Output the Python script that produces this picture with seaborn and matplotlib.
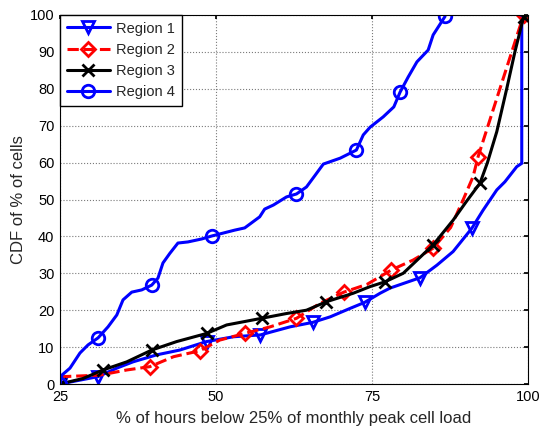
import numpy as np
import pandas as pd
import matplotlib
matplotlib.use("Agg")
import matplotlib.pyplot as plt
import seaborn as sns

# CDF curves, x = % of hours below 25% of peak load
region1_x = [25, 31.1, 34.1, 36.7, 40.5, 44.2, 48.5, 52.8, 57.1, 61.9, 65.5, 68.3, 71.5,
             73.8, 76.3, 77.9, 82.7, 85.4, 88.0, 91.0, 92.8, 95.0, 96.3, 98.2, 99.0, 99.0]
region1_y = [0, 2.0, 4.3, 6.0, 7.9, 9.2, 11.5, 12.8, 13.3, 15.5, 16.7, 18.2, 20.5,
             22.1, 24.6, 26.0, 28.8, 32.2, 35.9, 42.2, 47.1, 52.6, 54.8, 58.9, 59.8, 100]
region1_marks = [0, 1, 6, 8, 10, 13, 16, 19, 25]

region2_x = [25, 25.5, 31.4, 35.7, 39.4, 43.2, 47.4, 50.6, 54.6, 58.7, 62.9, 66.7, 70.5,
             74.2, 78.1, 81.6, 84.8, 87.6, 89.6, 91.2, 92.0, 95.0, 99.3]
region2_y = [2.0, 2.0, 2.4, 3.8, 4.7, 7.4, 9.0, 11.9, 13.7, 15.5, 17.8, 21.9, 24.9,
             27.0, 30.9, 33.6, 36.8, 42.4, 49.9, 56.2, 61.6, 77.4, 100]
region2_marks = [4, 6, 8, 10, 12, 14, 16, 20, 22]

region3_x = [25, 28.7, 31.9, 35.7, 39.7, 43.7, 48.5, 51.7, 57.3, 61.3, 64.5, 67.7, 72.0,
             74.7, 77.1, 80.0, 84.8, 88.0, 90.1, 92.3, 93.5, 95.0, 96.6, 97.9, 99.3]
region3_y = [0, 1.5, 3.8, 6.0, 9.2, 11.5, 13.7, 16.0, 17.8, 19.1, 20.0, 22.3, 24.6,
             26.4, 27.7, 30.0, 37.7, 44.4, 49.4, 54.4, 60.0, 68.4, 80.1, 90.0, 99.5]
region3_marks = [0, 2, 4, 6, 8, 11, 14, 16, 19, 24]

region4_x = [25, 25.3, 26.6, 28.2, 29.5, 31.1, 32.7, 34.1, 35.1, 36.5, 38.1, 39.7, 40.7,
             41.5, 42.6, 43.9, 45.5, 47.7, 49.3, 53.0, 54.6, 57.0, 57.8, 59.2, 61.3, 62.9,
             64.5, 65.9, 67.2, 69.9, 72.5, 73.6, 74.7, 76.8, 78.5, 79.5, 80.8, 82.2, 84.0,
             84.8, 86.7]
region4_y = [0, 2.4, 4.3, 8.4, 10.6, 12.5, 15.5, 18.7, 22.8, 24.9, 25.5, 26.8, 28.7,
             32.8, 35.4, 38.2, 38.5, 39.3, 40.1, 41.7, 42.3, 45.3, 47.4, 48.5, 50.7, 51.5,
             53.4, 56.6, 59.6, 61.2, 63.4, 67.5, 69.6, 72.4, 75.1, 79.1, 83.2, 87.3, 90.5,
             94.6, 99.6]
region4_marks = [0, 5, 11, 18, 25, 30, 35, 40]

x_ticks = [25, 50, 75, 100]
y_ticks = list(range(0, 101, 10))

sns.set_theme(style="whitegrid")
plt.rcParams.update({
    "font.family": ["Liberation Sans", "DejaVu Sans"],
    "font.size": 10,
    "axes.edgecolor": "black",
    "axes.linewidth": 0.8,
    "xtick.direction": "in",
    "ytick.direction": "in",
    "xtick.top": True,
    "ytick.right": True,
    "xtick.major.size": 3,
    "ytick.major.size": 3,
    "xtick.color": "black",
    "ytick.color": "black",
})

fig = plt.figure(figsize=(5.39, 4.30), dpi=100)
ax = fig.add_axes([60 / 539, 1 - 384 / 430, 468 / 539, 369 / 430])

series = [
    ("Region 1", region1_x, region1_y, region1_marks, "#0000ff", "-", "v"),
    ("Region 2", region2_x, region2_y, region2_marks, "#ff0000", "--", "D"),
    ("Region 3", region3_x, region3_y, region3_marks, "black", "-", "x"),
    ("Region 4", region4_x, region4_y, region4_marks, "#0000ff", "-", "o"),
]

for name, xs, ys, marks, color, ls, mk in series:
    df = pd.DataFrame({"x": xs, "y": ys})
    sns.lineplot(
        data=df, x="x", y="y", ax=ax,
        estimator=None, sort=False,
        color=color, linestyle=ls, linewidth=2.2,
        marker=mk, markevery=marks,
        markersize=9 if mk != "D" else 7.5,
        markerfacecolor="none", markeredgecolor=color, markeredgewidth=2,
        label=name,
    )

ax.set_xlim(25, 100)
ax.set_ylim(0, 100)
ax.set_xticks(x_ticks)
ax.set_yticks(y_ticks)
ax.tick_params(labelsize=10.5, pad=4)
ax.grid(True, color="#7a7a7a", linestyle=":", linewidth=0.8)
for s in ax.spines.values():
    s.set_color("black")

ax.set_xlabel("% of hours below 25% of monthly peak cell load", fontsize=12, labelpad=5)
ax.set_ylabel("CDF of % of cells", fontsize=12, labelpad=3)

leg = ax.legend(loc="upper left", borderaxespad=0, fancybox=False, framealpha=1,
                edgecolor="black", fontsize=10.5, handlelength=3.0,
                borderpad=0.45, labelspacing=0.5, handletextpad=0.4)
leg.get_frame().set_linewidth(1.0)

fig.savefig("out.png", dpi=100)
plt.close(fig)
